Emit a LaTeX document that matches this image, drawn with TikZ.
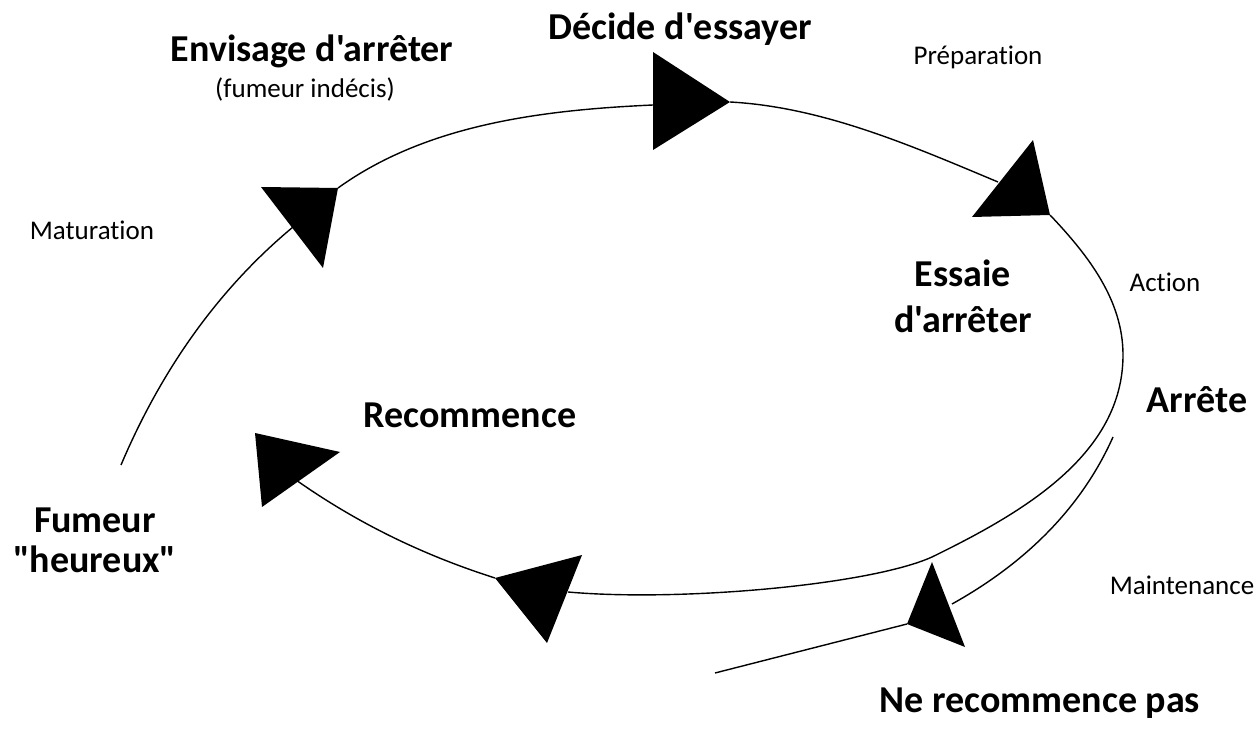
\documentclass[tikz,border=0pt]{standalone}
\usepackage{fontspec}
\setmainfont{Carlito}[Ligatures={TeXOff,CommonOff}]
\usepackage{tikz}

\begin{document}
\begin{tikzpicture}[x=0.5pt, y=-0.5pt, line width=0.7pt,
                  etape/.style={font=\bfseries\fontsize{19}{23}\selectfont,
                  align=center, inner sep=0pt, anchor=base},
                  phase/.style={font=\fontsize{13.5}{16.5}\selectfont,
                  inner sep=0pt, anchor=base},
                  pointe/.style={fill=black}]
                  \useasboundingbox (0,0) rectangle (1258,731);

                  % Colocamos las etiquetas de las etapas.
                  \node[etape] (envisage) at (312,62) {Envisage d'arrêter};
                  \node[phase] (indecis) at (305,98) {(fumeur indécis)};
                  \node[etape] (decide) at (680,40) {Décide d'essayer};
                  \node[phase] (prep) at (978,65) {Préparation};
                  \node[phase] (matur) at (92,240) {Maturation};
                  \node[etape] (essaie) at (963,333) {Essaie\\d'arrêter};
                  \node[phase] (action) at (1165,292) {Action};
                  \node[etape] (arrete) at (1197,413) {Arrête};
                  \node[etape] (recom) at (470,428) {Recommence};
                  \node[etape, font=\bfseries\fontsize{19}{20}\selectfont]
                  (fumeur) at (95,573) {Fumeur\\"heureux"};
                  \node[phase] (maint) at (1182,595) {Maintenance};
                  \node[etape] (nerecom) at (1040,712) {Ne recommence pas};

                  % Extremos de las curvas.
                  \coordinate (m0) at (121,465);
                  \coordinate (m1) at (293,227);
                  \coordinate (h0) at (338,188);
                  \coordinate (h1) at (653,105);
                  \coordinate (p0) at (730,102);
                  \coordinate (p1) at (998,182);
                  \coordinate (a0) at (1050,215);
                  \coordinate (a1) at (1123,355);
                  \coordinate (a2) at (932,557);
                  \coordinate (a3) at (568,592);
                  \coordinate (r0) at (495,578);
                  \coordinate (r1) at (296,480);
                  \coordinate (s0) at (1113,437);
                  \coordinate (s1) at (952,604);
                  \coordinate (n0) at (907,624);
                  \coordinate (n1) at (715,673);

                  % Dibujamos el ciclo.
                  \draw (m0) .. controls (160,373) and (216,291) .. (m1);
                  \draw (h0) .. controls (427,124) and (543,110) .. (h1);
                  \draw (p0) .. controls (823,107) and (912,146) .. (p1);
                  \draw (a0) .. controls (1088,255) and (1123,300) .. (a1)
                  .. controls (1123,455) and (1022,513) .. (a2)
                  .. controls (870,585) and (680,602) .. (a3);
                  \draw (r0) .. controls (426,556) and (360,525) .. (r1);
                  \draw (s0) .. controls (1080,511) and (1022,565) .. (s1);
                  \draw (n0) -- (n1);

                  % Puntas de flecha.
                  \fill[pointe] (261,187) -- (338,188) -- (323,268) -- cycle;
                  \fill[pointe] (653,52) -- (730,102) -- (653,150) -- cycle;
                  \fill[pointe] (1033,140) -- (1050,215) -- (972,217) -- cycle;
                  \fill[pointe] (932,562) -- (965,647) -- (907,624) -- cycle;
                  \fill[pointe] (495,578) -- (582,555) -- (547,643) -- cycle;
                  \fill[pointe] (255,433) -- (340,452) -- (262,507) -- cycle;

                \end{tikzpicture}
\end{document}
